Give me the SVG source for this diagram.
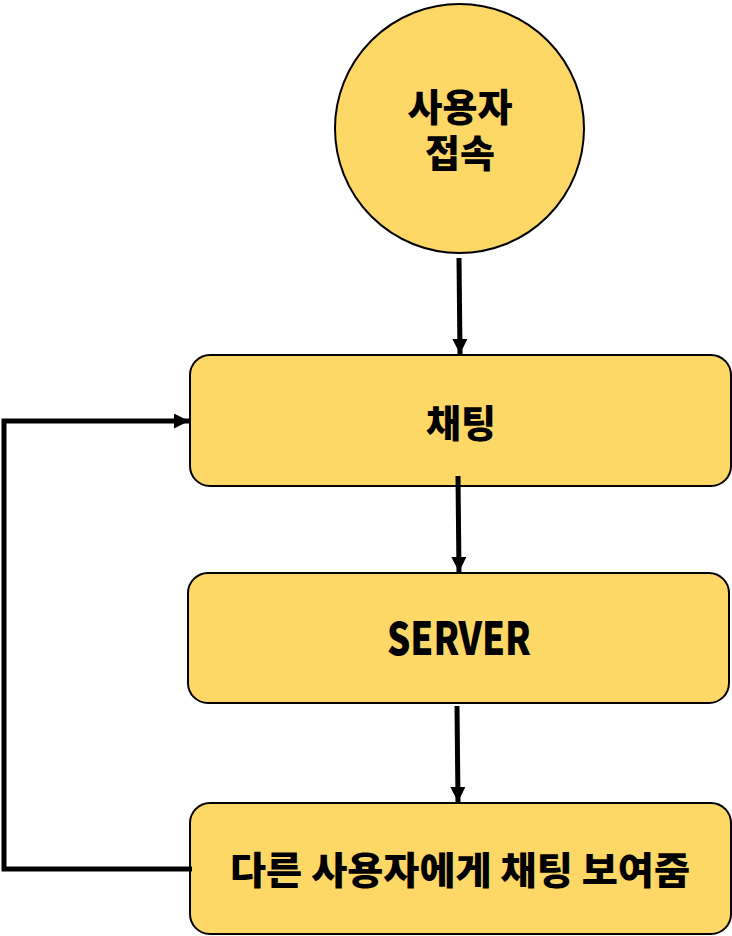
<svg xmlns="http://www.w3.org/2000/svg" width="732" height="936" viewBox="0 0 732 936">
<style>
.node{fill:#FDD866;stroke:#000;stroke-width:2}
.lbl{font-family:"Noto Sans CJK KR","Noto Sans",sans-serif;font-weight:900;fill:#000;text-anchor:middle}
.edge{fill:none;stroke:#000;stroke-width:5}
</style>
<defs>
<marker id="ah2" viewBox="0 0 10 10" refX="10" refY="5" markerWidth="15" markerHeight="15" markerUnits="userSpaceOnUse" orient="auto">
<path d="M0,0 L10,5 L0,10 Z" fill="#000"/>
</marker>
</defs>
<g id="start">
<circle class="node" cx="459.5" cy="128.5" r="124.5"/>
<text class="lbl" font-size="38"><tspan x="460" y="121">사용자</tspan><tspan x="460" y="167">접속</tspan></text>
</g>
<g id="chat">
<rect class="node" x="190" y="355" width="541" height="131" rx="20"/>
<text class="lbl" x="461" y="437" font-size="38">채팅</text>
</g>
<g id="server">
<rect class="node" x="188" y="573" width="541" height="130" rx="20"/>
<text class="lbl" x="459" y="655" font-size="45" textLength="144" lengthAdjust="spacingAndGlyphs">SERVER</text>
</g>
<g id="show">
<rect class="node" x="190" y="803" width="541" height="131" rx="20"/>
<text class="lbl" x="460" y="884" font-size="38" textLength="460" lengthAdjust="spacingAndGlyphs">다른 사용자에게 채팅 보여줌</text>
</g>
<g id="connectors">
<path class="edge" d="M459,258 L460,354" marker-end="url(#ah2)"/>
<path class="edge" d="M458,476 L459,572" marker-end="url(#ah2)"/>
<path class="edge" d="M457,706 L458,802" marker-end="url(#ah2)"/>
<path class="edge" d="M192,869 L4,869 L4,421 L189,421" marker-end="url(#ah2)"/>
</g>
</svg>
